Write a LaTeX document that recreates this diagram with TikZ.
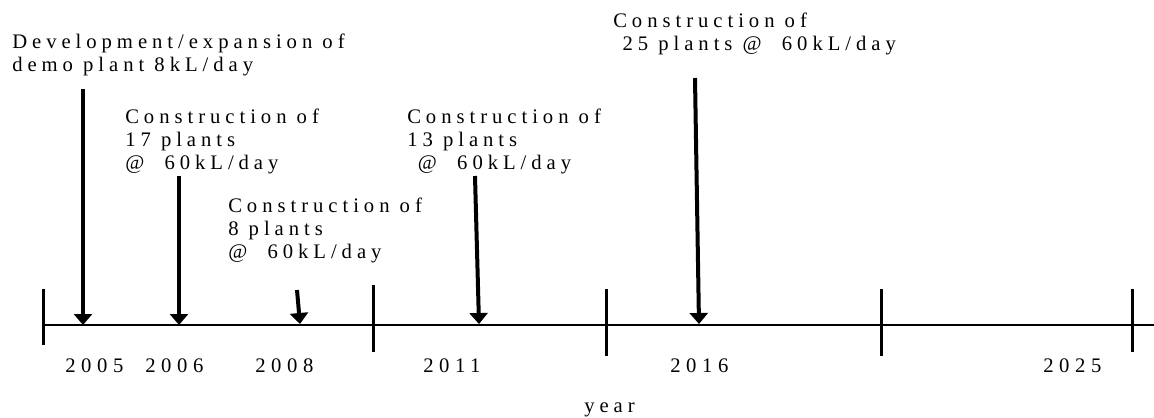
\documentclass[tikz,border=0pt]{standalone}
\usepackage{fontspec}
\setmainfont{Liberation Serif}
\newfontfamily\labelfont{Liberation Serif}[LetterSpace=24]
\newfontfamily\yearfont{Liberation Serif}[LetterSpace=27]
\usetikzlibrary{arrows.meta}

\tikzset{
    event/.style={draw, line width=3pt, -{Triangle[width=13.5pt,length=8.25pt]}},
    tickmark/.style={draw, line width=2.25pt},
    milestone/.style={anchor=north west, inner sep=0pt, align=left, font=\labelfont\fontsize{15.5}{17.25}\selectfont},
    yearlabel/.style={anchor=base west, inner sep=0pt, font=\yearfont\fontsize{15.5}{17}\selectfont},
}

\begin{document}
\begin{tikzpicture}[x=0.75pt, y=-0.75pt]
        \useasboundingbox (0,0) rectangle (1154,418);

        % time axis and its ticks
        \coordinate (start) at (43,325);
        \coordinate (end) at (1154,325);
        \path[draw, line width=1.5pt] (start) -- (end);

        \coordinate (k1t) at (43,289);   \coordinate (k1b) at (43,345);
        \coordinate (k2t) at (373,285);  \coordinate (k2b) at (373,352);
        \coordinate (k3t) at (606,289);  \coordinate (k3b) at (606,356);
        \coordinate (k4t) at (881,289);  \coordinate (k4b) at (881,356);
        \coordinate (k5t) at (1132,289); \coordinate (k5b) at (1132,352);
        \path[tickmark] (k1t) -- (k1b);
        \path[tickmark] (k2t) -- (k2b);
        \path[tickmark] (k3t) -- (k3b);
        \path[tickmark] (k4t) -- (k4b);
        \path[tickmark] (k5t) -- (k5b);

        % milestones
        \node[milestone] (demo) at (12,34) {Development/expansion of\\demo plant 8kL/day};
        \node[milestone] (c17) at (125,109) {Construction of\\17 plants\\@\ \ 60kL/day};
        \node[milestone] (c8) at (228,198) {Construction of\\8 plants\\@\ \ 60kL/day};
        \node[milestone] (c13) at (407,109) {Construction of\\13 plants\\\hspace*{8pt}@\ \ 60kL/day};
        \node[milestone] (c25) at (613,13) {Construction of\\\hspace*{7pt}25 plants @\ \ 60kL/day};

        % arrows down to the axis
        \coordinate (s05) at (83,89);   \coordinate (e05) at (83,325);
        \coordinate (s06) at (179,176); \coordinate (e06) at (179,325);
        \coordinate (s08) at (297,290); \coordinate (e08) at (300,324);
        \coordinate (s11) at (475,176); \coordinate (e11) at (479,324);
        \coordinate (s16) at (695,78);  \coordinate (e16) at (699,324);
        \path[event] (s05) -- (e05);
        \path[event] (s06) -- (e06);
        \path[event] (s08) -- (e08);
        \path[event] (s11) -- (e11);
        \path[event] (s16) -- (e16);

        % years
        \node[yearlabel] (y2005) at (65,372) {2005};
        \node[yearlabel] (y2006) at (145,372) {2006};
        \node[yearlabel] (y2008) at (255,372) {2008};
        \node[yearlabel] (y2011) at (423,372) {2011};
        \node[yearlabel] (y2016) at (670,372) {2016};
        \node[yearlabel] (y2025) at (1043,372) {2025};
        \node[anchor=base west, inner sep=0pt, font=\labelfont\fontsize{15.5}{17}\selectfont] (year) at (584,412) {year};
\end{tikzpicture}
\end{document}
